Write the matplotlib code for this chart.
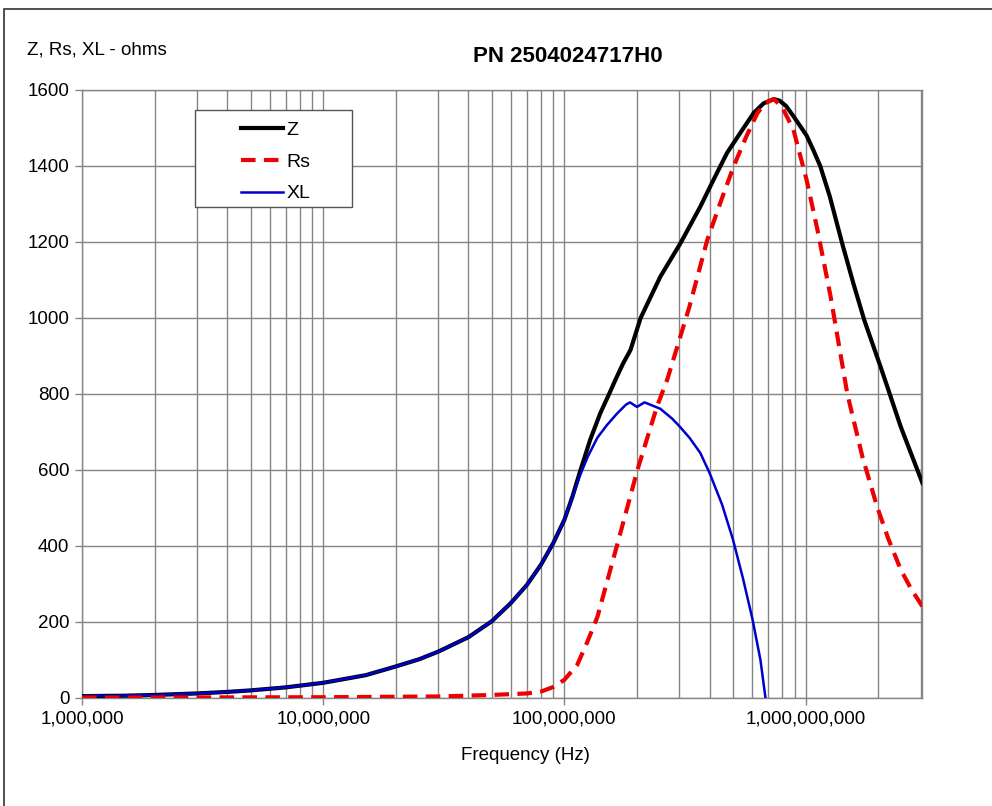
import matplotlib.pyplot as plt
from matplotlib.ticker import FuncFormatter, LogLocator, MultipleLocator
from matplotlib.patches import Rectangle

plt.rcParams['font.family'] = ['Liberation Sans', 'DejaVu Sans']

# impedance Z (ohms) vs frequency (Hz)
z_freq = [1.0e6, 1.5e6, 2.0e6, 3.0e6, 4.0e6, 5.0e6, 7.0e6, 1.0e7, 1.5e7, 2.0e7,
          2.5e7, 3.0e7, 4.0e7, 5.0e7, 6.0e7, 7.0e7, 8.0e7, 9.0e7, 1.0e8, 1.08e8,
          1.16e8, 1.28e8, 1.41e8, 1.52e8, 1.63e8, 1.75e8, 1.88e8, 2.07e8, 2.5e8,
          3.03e8, 3.66e8, 4.2e8, 4.73e8, 5.4e8, 6.1e8, 6.7e8, 7.38e8, 7.8e8,
          8.3e8, 8.93e8, 9.5e8, 1.01e9, 1.08e9, 1.15e9, 1.26e9, 1.42e9, 1.58e9,
          1.75e9, 2.05e9, 2.22e9, 2.48e9, 2.75e9, 3.05e9]
z_val = [5, 6, 8, 12, 16, 20, 28, 40, 60, 83,
         102, 122, 160, 202, 250, 298, 351, 408, 469, 530,
         595, 680, 750, 795, 838, 880, 916, 1000, 1109,
         1197, 1293, 1370, 1435, 1490, 1540, 1565, 1576, 1572,
         1558, 1530, 1505, 1480, 1440, 1400, 1320, 1195, 1090,
         995, 870, 805, 714, 640, 566]

# series resistance Rs
rs_freq = [1.0e6, 1.0e7, 3.0e7, 5.0e7, 7.0e7, 8.0e7, 9.0e7, 1.0e8, 1.13e8, 1.24e8,
           1.37e8, 1.65e8, 2.01e8, 2.42e8, 2.67e8, 3.3e8, 3.91e8, 4.5e8, 5.04e8,
           5.7e8, 6.31e8, 6.8e8, 7.38e8, 8.0e8, 8.91e8, 1.01e9, 1.12e9, 1.27e9,
           1.49e9, 1.72e9, 1.98e9, 2.2e9, 2.48e9, 2.75e9, 3.05e9]
rs_val = [1, 2, 4, 8, 12, 17, 29, 48, 87, 145,
          213, 400, 601, 767, 838, 1030, 1205, 1315, 1400,
          1480, 1539, 1565, 1576, 1555, 1495, 1363, 1232, 1056,
          800, 635, 503, 420, 338, 285, 241]

# reactance XL
xl_freq = [1.0e6, 1.5e6, 2.0e6, 3.0e6, 4.0e6, 5.0e6, 7.0e6, 1.0e7, 1.5e7, 2.0e7,
           2.5e7, 3.0e7, 4.0e7, 5.0e7, 6.0e7, 7.0e7, 8.0e7, 9.0e7, 1.0e8, 1.08e8,
           1.16e8, 1.25e8, 1.37e8, 1.5e8, 1.65e8, 1.8e8, 1.87e8, 2.0e8, 2.15e8,
           2.5e8, 2.8e8, 3.0e8, 3.3e8, 3.66e8, 4.0e8, 4.5e8, 5.0e8, 5.5e8,
           6.03e8, 6.5e8, 6.82e8]
xl_val = [5, 6, 8, 12, 16, 20, 28, 40, 60, 83,
          102, 122, 160, 202, 250, 298, 351, 408, 469, 528,
          585, 635, 685, 718, 748, 772, 778, 766, 778,
          761, 735, 715, 685, 645, 592, 510, 417, 315,
          206, 100, 0]

fig = plt.figure(figsize=(9.92, 8.06), dpi=100)
ax = fig.add_axes([82/992, 108/806, 839.7/992, 608/806])

grid_c = '#858585'
ax.plot(z_freq, z_val, color='black', lw=3.0, label='Z', zorder=3)
ax.plot(xl_freq, xl_val, color='#0000cc', lw=1.8, label='XL', zorder=3)
ax.plot(rs_freq, rs_val, color='#ee0000', lw=3.0, ls=(0, (3.5, 2)),
        dash_capstyle='butt', label='Rs', zorder=3)

ax.set_xscale('log')
ax.set_xlim(1e6, 3.03e9)
ax.set_ylim(0, 1600)
ax.yaxis.set_major_locator(MultipleLocator(200))
ax.xaxis.set_major_locator(LogLocator(base=10))
ax.xaxis.set_minor_locator(LogLocator(base=10, subs=range(2, 10)))
ax.xaxis.set_major_formatter(FuncFormatter(lambda v, p: f'{v:,.0f}'))
ax.grid(True, which='both', axis='x', color=grid_c, lw=1)
ax.grid(True, which='major', axis='y', color=grid_c, lw=1)
ax.set_axisbelow(True)
for s in ax.spines.values():
    s.set_color(grid_c)
    s.set_linewidth(1)
ax.tick_params(axis='both', which='major', length=5, width=1, color=grid_c,
               labelsize=13.5, pad=4)
ax.tick_params(axis='x', which='minor', length=0)

# legend box
ax.add_patch(Rectangle((0.1346, 0.8076), 0.187, 0.1594, transform=ax.transAxes,
                       facecolor='white', edgecolor='#555555', lw=1, zorder=4))
h, l = ax.get_legend_handles_labels()
order = [0, 2, 1]
leg = ax.legend([h[i] for i in order], [l[i] for i in order],
                loc='upper left', bbox_to_anchor=(0.168, 0.977),
                frameon=False, fontsize=14, handlelength=2.2,
                handletextpad=0.15, labelspacing=0.72)
leg.set_zorder(5)

fig.text(568/992, 1 - 57/806, 'PN 2504024717H0', ha='center', va='center',
         fontsize=16, fontweight='bold')
fig.text(27/992, 1 - 50/806, 'Z, Rs, XL - ohms', ha='left', va='center',
         fontsize=13.5)
fig.text(525/992, 1 - 755/806, 'Frequency (Hz)', ha='center', va='center',
         fontsize=13.5)

# outer chart border
fig.patches.append(Rectangle((4/992, -0.1), 1.2, 1.1 - 9/806,
                             transform=fig.transFigure, fill=False,
                             edgecolor='#333333', lw=1.2))

fig.savefig('out.png', dpi=100)
